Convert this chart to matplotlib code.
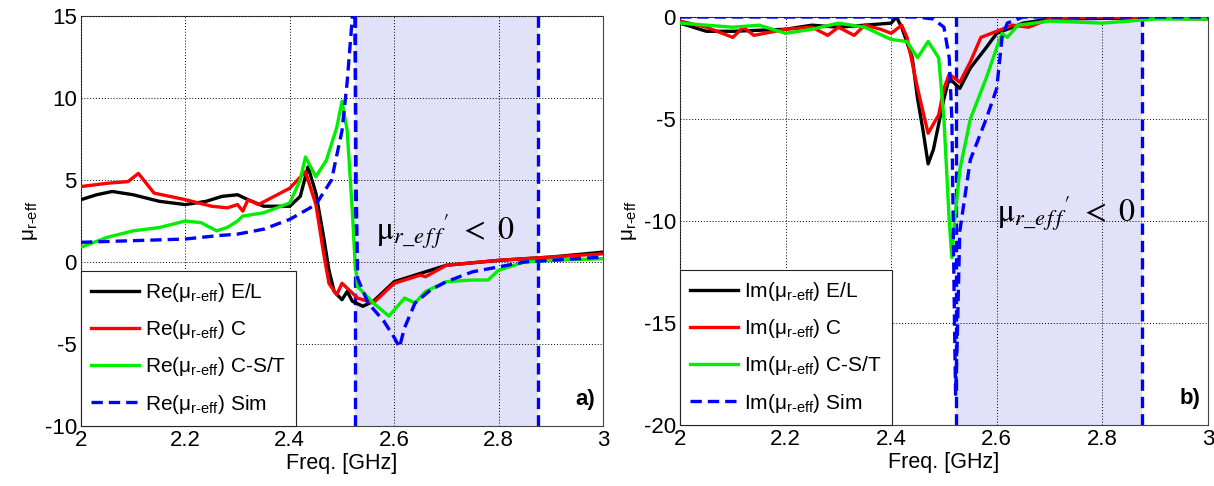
import matplotlib
matplotlib.use('Agg')
import matplotlib.pyplot as plt

plt.rcParams['font.family'] = ['Liberation Sans', 'DejaVu Sans']
plt.rcParams['mathtext.fontset'] = 'custom'
plt.rcParams['mathtext.rm'] = 'Liberation Sans'
plt.rcParams['mathtext.it'] = 'Liberation Sans:italic'
plt.rcParams['axes.unicode_minus'] = False

# ---- panel a) real part ----
re_el_f = [2.0, 2.03, 2.06, 2.1, 2.15, 2.2, 2.24, 2.27, 2.3, 2.32, 2.35, 2.4, 2.42, 2.435,
           2.45, 2.465, 2.475, 2.485, 2.5, 2.51, 2.52, 2.54, 2.56, 2.58, 2.6, 2.65, 2.7, 2.8, 2.9, 3.0]
re_el_v = [3.8, 4.1, 4.3, 4.1, 3.7, 3.5, 3.7, 4.0, 4.1, 3.8, 3.4, 3.4, 4.0, 5.8,
           4.2, 1.5, -0.5, -1.8, -2.3, -1.8, -2.4, -2.7, -2.4, -1.8, -1.2, -0.7, -0.2, 0.1, 0.3, 0.6]

re_c_f = [2.0, 2.05, 2.09, 2.11, 2.14, 2.2, 2.25, 2.28, 2.3, 2.31, 2.32, 2.34, 2.37, 2.4, 2.43,
          2.45, 2.465, 2.475, 2.49, 2.5, 2.51, 2.53, 2.56, 2.58, 2.6, 2.65, 2.66, 2.7, 2.8, 2.9, 3.0]
re_c_v = [4.6, 4.8, 4.9, 5.4, 4.2, 3.8, 3.4, 3.3, 3.5, 3.1, 3.8, 3.5, 4.0, 4.5, 5.5,
          3.5, 0.5, -1.3, -2.0, -1.3, -1.6, -2.2, -2.5, -1.9, -1.3, -0.8, -0.9, -0.2, 0.1, 0.3, 0.5]

re_cst_f = [2.0, 2.05, 2.1, 2.15, 2.2, 2.23, 2.26, 2.28, 2.3, 2.31, 2.35, 2.4, 2.42, 2.43,
            2.45, 2.47, 2.49, 2.5, 2.51, 2.52, 2.525, 2.53, 2.56, 2.59, 2.62, 2.64, 2.66,
            2.7, 2.75, 2.78, 2.8, 2.85, 2.9, 3.0]
re_cst_v = [0.9, 1.5, 1.9, 2.1, 2.5, 2.4, 1.9, 2.1, 2.5, 2.8, 3.0, 3.6, 5.0, 6.4,
            5.2, 6.2, 8.2, 9.8, 8.0, 3.0, 0.0, -1.5, -2.5, -3.3, -2.2, -2.5, -1.8,
            -1.2, -1.1, -1.1, -0.5, 0.0, 0.1, 0.2]

re_sim_f = [2.0, 2.1, 2.2, 2.26, 2.3, 2.35, 2.4, 2.45, 2.48, 2.5, 2.51, 2.52, 2.524,
            2.527, 2.53, 2.55, 2.58, 2.6, 2.61, 2.62, 2.64, 2.67, 2.7, 2.75, 2.8, 2.85, 2.9, 3.0]
re_sim_v = [1.2, 1.3, 1.4, 1.6, 1.7, 2.0, 2.6, 3.5, 5.0, 8.0, 11.0, 15.0, 18.0,
            5.0, -1.0, -2.5, -3.6, -4.6, -5.2, -4.0, -2.5, -1.7, -1.2, -0.6, -0.3, 0.0, 0.1, 0.3]

# ---- panel b) imaginary part ----
im_el_f = [2.0, 2.05, 2.1, 2.2, 2.25, 2.3, 2.35, 2.4, 2.41, 2.42, 2.44, 2.45, 2.46, 2.47,
           2.48, 2.5, 2.51, 2.53, 2.55, 2.58, 2.6, 2.65, 2.7, 3.0]
im_el_v = [-0.3, -0.7, -0.7, -0.6, -0.4, -0.5, -0.4, -0.3, 0.0, -0.5, -2.0, -4.0, -5.5, -7.2,
           -6.5, -4.0, -3.0, -3.5, -2.5, -1.5, -0.8, -0.3, -0.1, 0.0]

im_c_f = [2.0, 2.05, 2.1, 2.12, 2.14, 2.2, 2.25, 2.28, 2.3, 2.33, 2.35, 2.38, 2.4, 2.42,
          2.43, 2.45, 2.47, 2.49, 2.5, 2.51, 2.53, 2.55, 2.57, 2.6, 2.63, 2.66, 2.7, 2.8, 3.0]
im_c_v = [-0.2, -0.5, -1.0, -0.5, -0.9, -0.6, -0.5, -0.9, -0.5, -0.9, -0.4, -0.6, -0.8, -0.4,
          -1.0, -3.5, -5.7, -4.8, -3.5, -2.8, -3.2, -2.2, -1.0, -0.7, -0.4, -0.5, -0.1, 0.0, -0.1]

im_cst_f = [2.0, 2.05, 2.1, 2.15, 2.2, 2.25, 2.3, 2.35, 2.4, 2.43, 2.45, 2.47, 2.49, 2.5,
            2.51, 2.515, 2.52, 2.53, 2.55, 2.58, 2.6, 2.61, 2.62, 2.64, 2.7, 2.8, 2.9, 3.0]
im_cst_v = [-0.3, -0.4, -0.5, -0.4, -0.8, -0.6, -0.3, -0.5, -1.1, -1.2, -2.0, -1.2, -2.0, -5.0,
            -10.0, -11.8, -10.0, -7.5, -5.0, -3.0, -1.5, -0.8, -1.0, -0.4, -0.2, -0.3, -0.1, -0.1]

im_sim_f = [2.0, 2.2, 2.45, 2.48, 2.5, 2.51, 2.515, 2.52, 2.522, 2.525, 2.53, 2.55,
            2.58, 2.6, 2.61, 2.62, 2.65, 3.0]
im_sim_v = [0.0, 0.0, 0.0, -0.1, -0.5, -2.0, -5.0, -15.0, -18.5, -16.0, -10.5, -7.0,
            -5.0, -3.5, -1.0, -0.3, 0.0, 0.0]

band_a = (2.525, 2.875)
band_b = (2.522, 2.875)

dash = (0, (3.4, 1.8))
lw = 2.4
fs = 16


def draw_panel(ax, part, series, band, ylim, yticks, note_xy, tag):
    ax.axvspan(band[0], band[1], color='#e1e1fa', zorder=0, lw=0)
    for x in band:
        ax.axvline(x, color='#0000ff', lw=lw, ls=dash, zorder=3)
    names = ['E/L', 'C', 'C-S/T', 'Sim']
    colors = ['black', '#ff0000', '#00ee00', '#0000ff']
    for (f, v), name, c in zip(series, names, colors):
        ax.plot(f, v, color=c, lw=lw, ls=dash if name == 'Sim' else '-',
                label=part + r'($\mathrm{\mu_{r\text{-}eff}}$) ' + name, zorder=4)
    ax.set_xlim(2, 3)
    ax.set_ylim(*ylim)
    ax.set_xticks([2, 2.2, 2.4, 2.6, 2.8, 3])
    ax.set_xticklabels(['2', '2.2', '2.4', '2.6', '2.8', '3'])
    ax.set_yticks(yticks)
    ax.tick_params(labelsize=fs, direction='in', length=0, pad=3)
    ax.grid(True, color='black', ls=(0, (1, 2)), lw=0.7)
    ax.set_axisbelow(False)
    for s in ax.spines.values():
        s.set_linewidth(0.8)
        s.set_color('#444444')
    ax.set_xlabel('Freq. [GHz]', fontsize=15.5, labelpad=1)
    ax.set_ylabel(r'$\mathrm{\mu_{r\text{-}eff}}$', fontsize=15, labelpad=3)
    leg = ax.legend(loc='lower left', fontsize=15, frameon=True, fancybox=False,
                    framealpha=1, edgecolor='#222222', handlelength=2.3,
                    handletextpad=0.25, labelspacing=0.68, borderpad=0.5,
                    borderaxespad=0)
    leg.get_frame().set_linewidth(0.8)
    leg.set_zorder(6)
    ax.text(note_xy[0], note_xy[1], r"$\mathrm{\mu}_{r\_e\,f\,f}{}^{\prime}\ <\ 0$", fontsize=23,
            math_fontfamily='stix', va='center', ha='left', zorder=5)
    ax.text(0.985, 0.065, tag, transform=ax.transAxes, fontsize=16,
            fontweight='bold', ha='right', va='center', zorder=5)


fig = plt.figure(figsize=(12.14, 4.86), dpi=100)
ax1 = fig.add_axes([0.0667, 0.1235, 0.4300, 0.8436])
ax2 = fig.add_axes([0.5601, 0.1255, 0.4349, 0.8395])

draw_panel(ax1, 'Re',
           [(re_el_f, re_el_v), (re_c_f, re_c_v), (re_cst_f, re_cst_v), (re_sim_f, re_sim_v)],
           band_a, (-10, 15), [-10, -5, 0, 5, 10, 15], (2.565, 1.9), 'a)')
draw_panel(ax2, 'Im',
           [(im_el_f, im_el_v), (im_c_f, im_c_v), (im_cst_f, im_cst_v), (im_sim_f, im_sim_v)],
           band_b, (-20, 0), [-20, -15, -10, -5, 0], (2.6, -9.6), 'b)')

fig.savefig('out.png', dpi=100)
